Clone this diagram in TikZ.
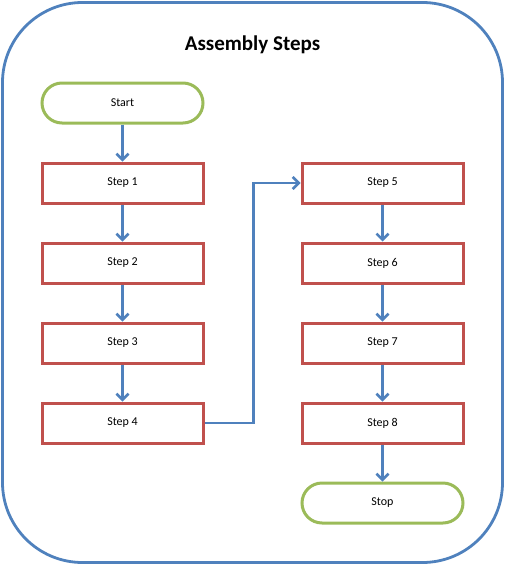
\documentclass[tikz,border=0pt]{standalone}
\usepackage{fontspec}
\setmainfont{Carlito}
\usetikzlibrary{arrows.meta}
\definecolor{frameblue}{HTML}{4F81BD}
\definecolor{stepred}{HTML}{C0504D}
\definecolor{termgreen}{HTML}{9BBB59}
\begin{document}
\begin{tikzpicture}[x=1pt, y=-1pt, ->, >={Straight Barb[length=6pt, width=12pt]},
    line width=2.6pt, frameblue,
    every node/.style={minimum width=161pt, minimum height=40pt,
      inner sep=0pt, text=black, font=\fontsize{12}{14}\selectfont},
    stepbox/.style={draw=stepred, line width=3pt},
    termbox/.style={draw=termgreen, line width=3pt, rounded corners=20pt},
    title/.style={minimum width=0pt, minimum height=0pt,
      font=\fontsize{21}{25}\selectfont\bfseries}]

  \useasboundingbox (0,0) rectangle (505,565);

  % outer frame
  \draw[-, line width=2.8pt, rounded corners=80pt] (2.5,2.5) rectangle (502.5,562.5);

  \node[title] (title) at (252.5,45) {Assembly Steps};

  % terminals
  \node[termbox] (start) at (122.5,103) {Start};
  \node[termbox] (stop) at (382.5,503) {Stop};

  % 8 steps in two columns
  \foreach \n in {1,2,3,4} {
    \node[stepbox] (\n) at (122.5, 103+\n*80) {Step \n};
  }
  \foreach \n in {5,6,7,8} {
    \pgfmathtruncatemacro{\k}{\n-4}
    \node[stepbox] (\n) at (382.5, 103+\k*80) {Step \n};
  }

  % vertical arrows
  \draw (start) -> (1);
  \draw (1) -> (2);
  \draw (2) -> (3);
  \draw (3) -> (4);
  \draw (5) -> (6);
  \draw (6) -> (7);
  \draw (7) -> (8);
  \draw (8) -> (stop);

  % cross over to second column
  \draw (4.east) -- ++(49,0) |- (5.west);

\end{tikzpicture}
\end{document}
